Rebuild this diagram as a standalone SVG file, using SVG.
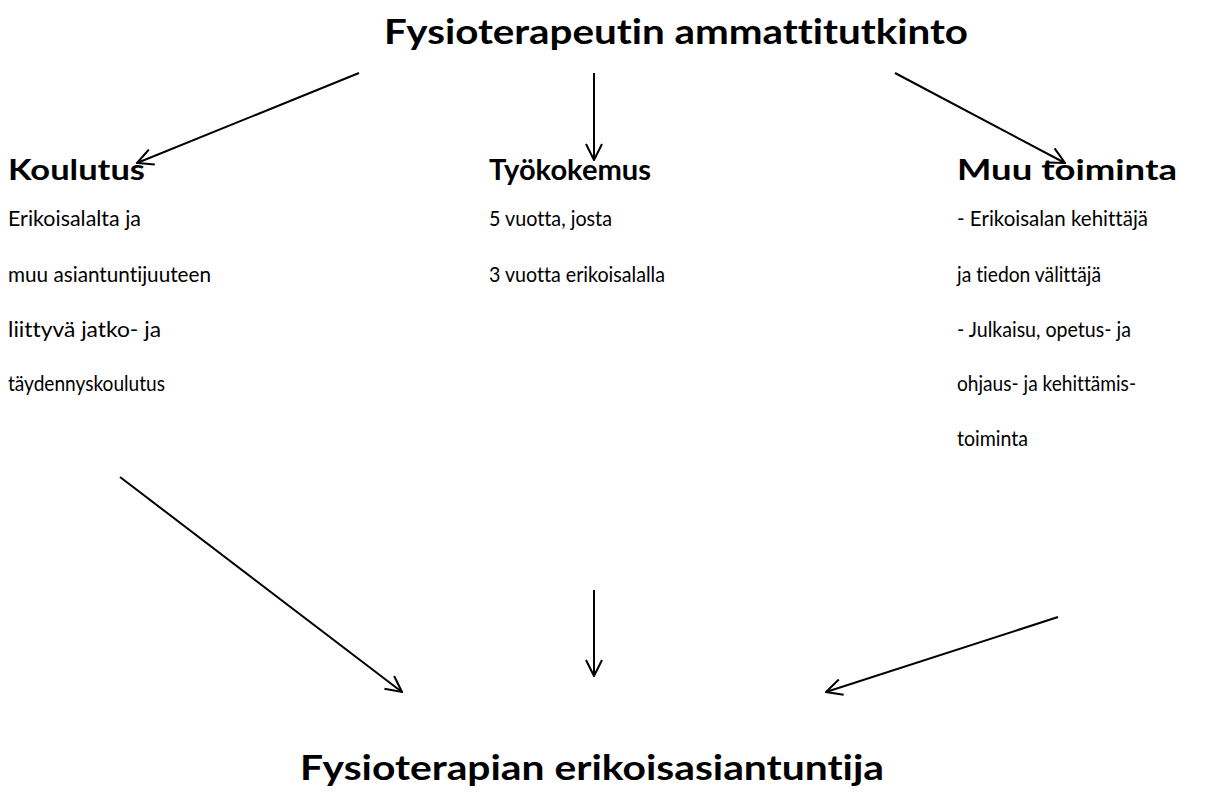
<svg xmlns="http://www.w3.org/2000/svg" width="1219" height="803" viewBox="0 0 1219 803">
<defs>
<style>
text{font-variant-ligatures:none;font-feature-settings:"liga" 0}
.t{font-family:Lato,"Open Sans","Liberation Sans",sans-serif;font-weight:bold;font-size:35px;fill:#000}
.h{font-family:Lato,"Open Sans","Liberation Sans",sans-serif;font-weight:bold;font-size:29px;fill:#000}
.b{font-family:Lato,"Open Sans","Liberation Sans",sans-serif;font-size:20.5px;fill:#000}
.c{stroke:#000;stroke-width:2;fill:none}
</style>
<marker id="a" viewBox="0 0 18 18" refX="17" refY="9" markerWidth="18" markerHeight="18" markerUnits="userSpaceOnUse" orient="auto">
<path d="M1,1 L17,9 L1,17" fill="none" stroke="#000" stroke-width="2"/>
</marker>
</defs>
<rect width="1219" height="803" fill="#fff"/>
<g id="top"><text class="t" x="384" y="44" textLength="584" lengthAdjust="spacingAndGlyphs">Fysioterapeutin ammattitutkinto</text></g>
<g id="koulutus">
<text class="h" x="8" y="180" textLength="137" lengthAdjust="spacingAndGlyphs">Koulutus</text>
<text class="b" x="8" y="226" textLength="133" lengthAdjust="spacingAndGlyphs">Erikoisalalta ja</text>
<text class="b" x="8" y="282" textLength="203" lengthAdjust="spacingAndGlyphs">muu asiantuntijuuteen</text>
<text class="b" x="8" y="337" textLength="153" lengthAdjust="spacingAndGlyphs">liittyvä jatko- ja</text>
<text class="b" x="8" y="391" textLength="157" lengthAdjust="spacingAndGlyphs">täydennyskoulutus</text>
</g>
<g id="tyokokemus">
<text class="h" x="489" y="180" textLength="162" lengthAdjust="spacingAndGlyphs">Työkokemus</text>
<text class="b" x="489" y="226" textLength="123" lengthAdjust="spacingAndGlyphs">5 vuotta, josta</text>
<text class="b" x="489" y="282" textLength="176" lengthAdjust="spacingAndGlyphs">3 vuotta erikoisalalla</text>
</g>
<g id="muu">
<text class="h" x="957" y="180" textLength="220" lengthAdjust="spacingAndGlyphs">Muu toiminta</text>
<text class="b" x="957" y="226" textLength="191" lengthAdjust="spacingAndGlyphs">- Erikoisalan kehittäjä</text>
<text class="b" x="957" y="282" textLength="144" lengthAdjust="spacingAndGlyphs">ja tiedon välittäjä</text>
<text class="b" x="957" y="337" textLength="174" lengthAdjust="spacingAndGlyphs">- Julkaisu, opetus- ja</text>
<text class="b" x="957" y="391" textLength="179" lengthAdjust="spacingAndGlyphs">ohjaus- ja kehittämis-</text>
<text class="b" x="957" y="446" textLength="71" lengthAdjust="spacingAndGlyphs">toiminta</text>
</g>
<g id="bottom"><text class="t" x="300" y="780" textLength="584" lengthAdjust="spacingAndGlyphs">Fysioterapian erikoisasiantuntija</text></g>
<g id="connectors">
<line class="c" x1="359" y1="73" x2="137" y2="163" marker-end="url(#a)"/>
<line class="c" x1="594" y1="73" x2="594" y2="160" marker-end="url(#a)"/>
<line class="c" x1="895" y1="73" x2="1065" y2="163" marker-end="url(#a)"/>
<line class="c" x1="120" y1="477" x2="402" y2="692" marker-end="url(#a)"/>
<line class="c" x1="594" y1="590" x2="594" y2="676" marker-end="url(#a)"/>
<line class="c" x1="1058" y1="617" x2="826" y2="692" marker-end="url(#a)"/>
</g>
</svg>
